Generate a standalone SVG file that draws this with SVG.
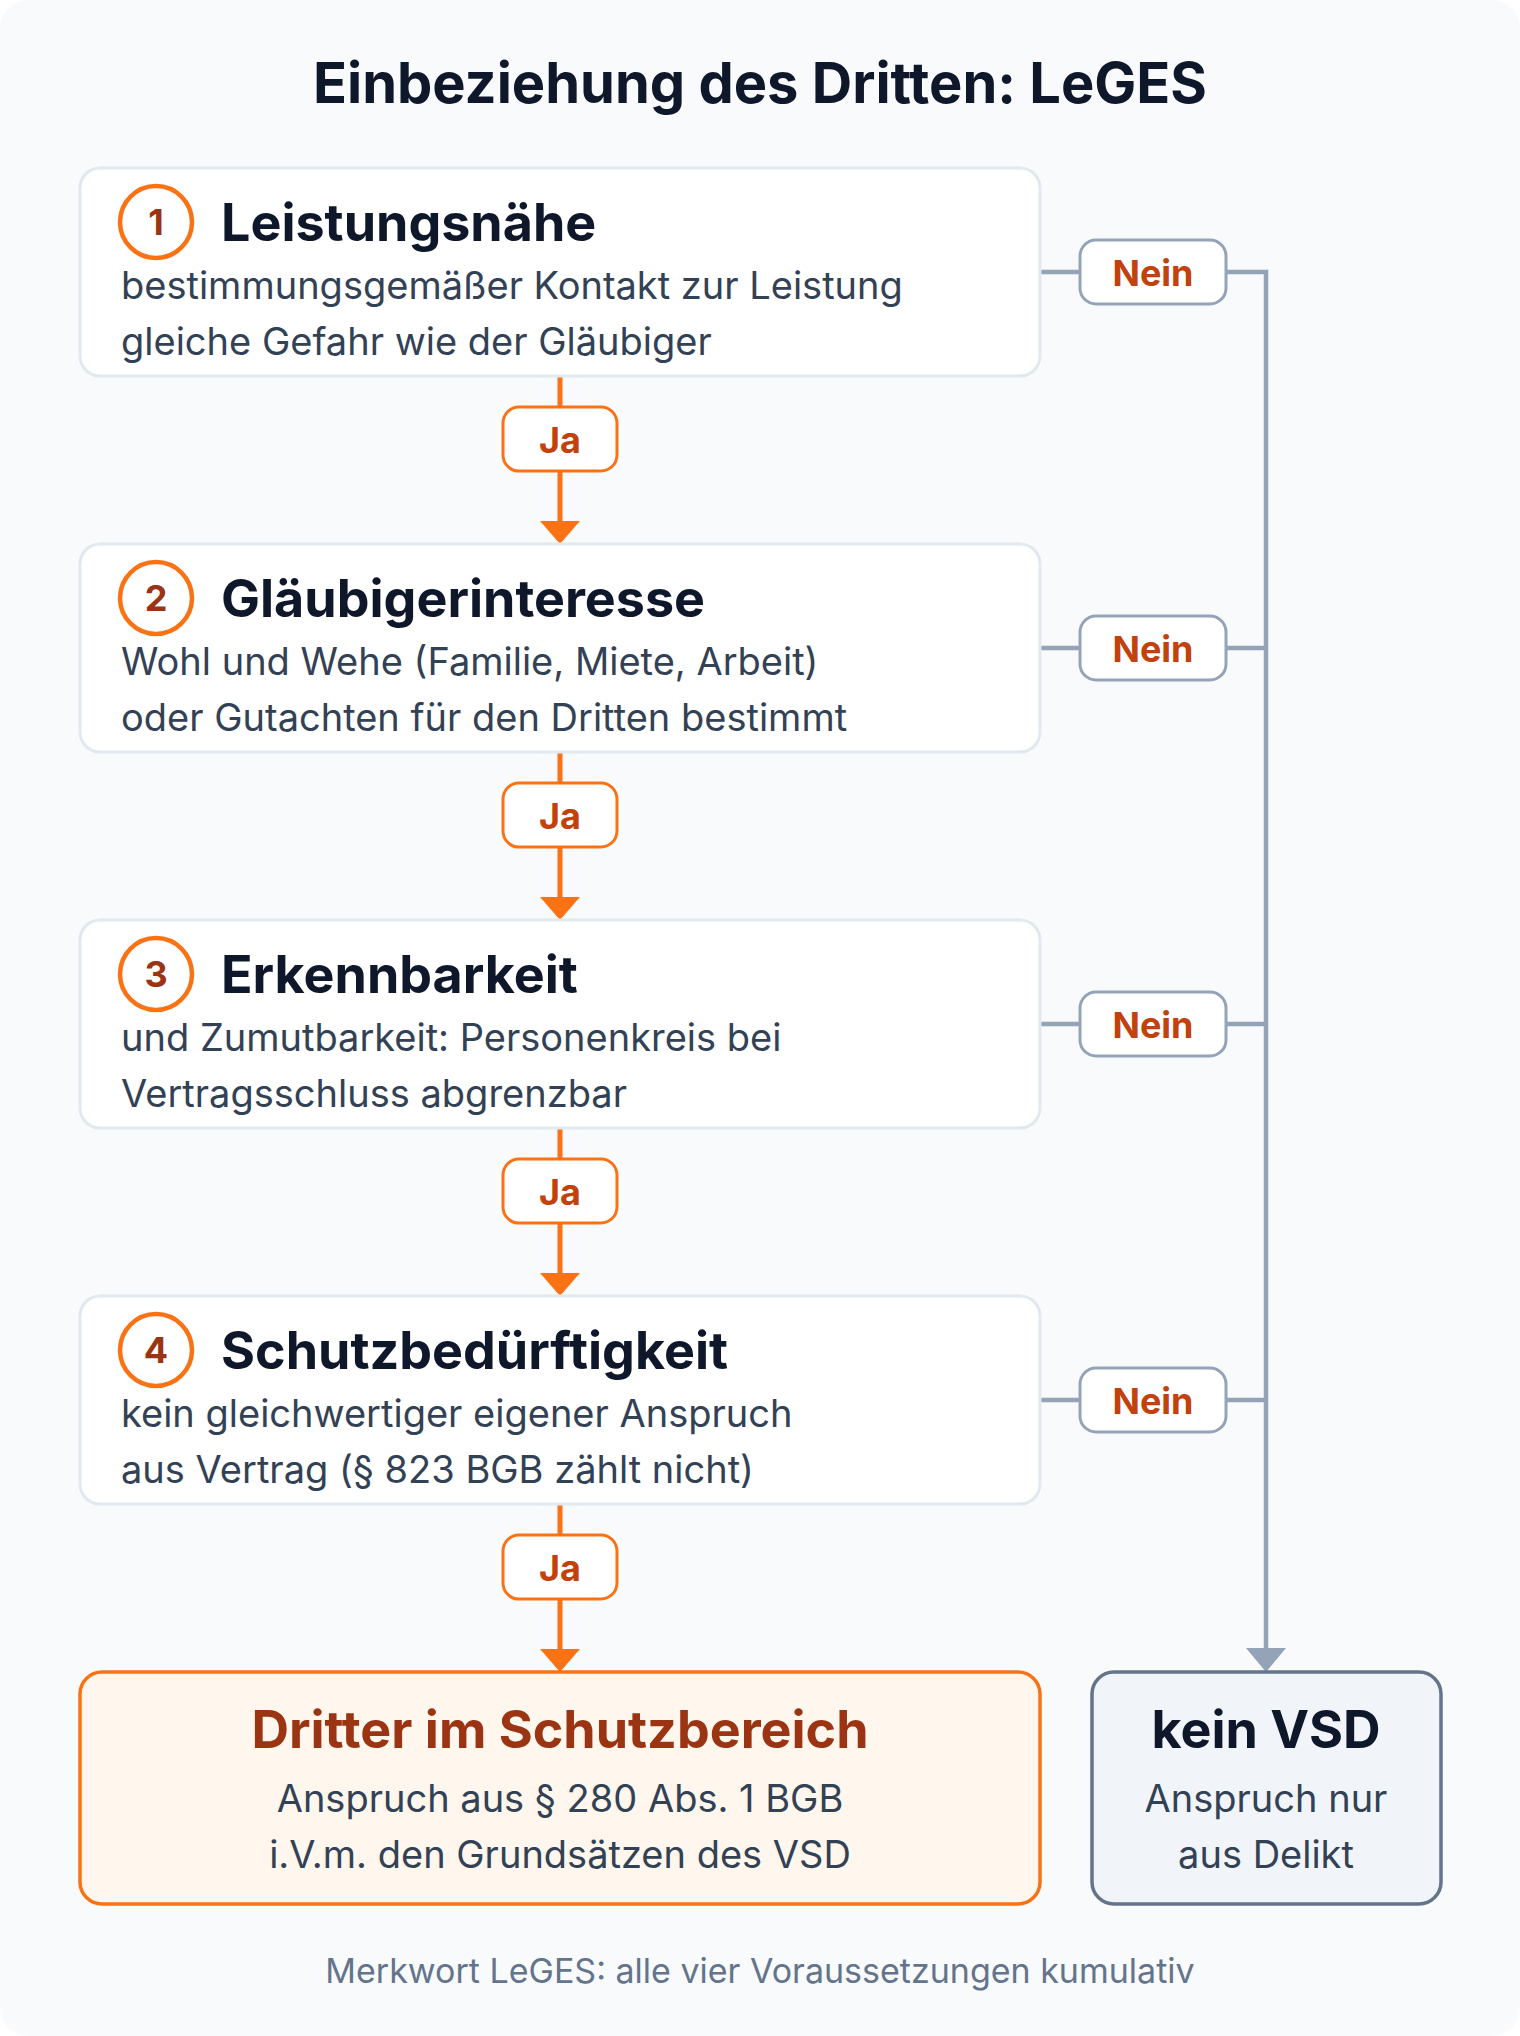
<svg xmlns="http://www.w3.org/2000/svg" width="1520" height="2036" viewBox="0 0 1520 2036">
<style>
text { font-family: Inter, "Noto Sans", "Liberation Sans", sans-serif; }
.title { font-size: 56px; font-weight: 700; fill: #0f172a; }
.step { fill: #ffffff; stroke: #e2e8f0; stroke-width: 3; }
.num-c { fill: #ffffff; stroke: #f97316; stroke-width: 4.5; }
.num { font-size: 36px; font-weight: 700; fill: #9a3412; text-anchor: middle; }
.head { font-size: 52px; font-weight: 700; fill: #0f172a; }
.body { font-size: 38px; font-weight: 400; fill: #334155; }
.yes-line { stroke: #f97316; stroke-width: 5; fill: none; }
.no-line { stroke: #94a3b8; stroke-width: 4.5; fill: none; }
.yes-pill { fill: #ffffff; stroke: #f97316; stroke-width: 3; }
.no-pill { fill: #ffffff; stroke: #94a3b8; stroke-width: 3; }
.lbl { font-size: 36px; font-weight: 700; fill: #c2410c; text-anchor: middle; }
.ctr { text-anchor: middle; }
.foot { font-size: 34px; fill: #64748b; text-anchor: middle; }
</style>
<rect x="0" y="0" width="1520" height="2036" fill="#ffffff"/>
<rect x="0" y="0" width="1520" height="2036" rx="28" fill="#f8fafc"/>
<text class="title" x="760" y="103" text-anchor="middle">Einbeziehung des Dritten: LeGES</text>

<g id="connectors">
  <path class="yes-line" d="M560 376 V522"/>
  <polygon points="540,521 580,521 560,544" fill="#f97316"/>
  <path class="yes-line" d="M560 752 V898"/>
  <polygon points="540,897 580,897 560,920" fill="#f97316"/>
  <path class="yes-line" d="M560 1128 V1274"/>
  <polygon points="540,1273 580,1273 560,1296" fill="#f97316"/>
  <path class="yes-line" d="M560 1504 V1650"/>
  <polygon points="540,1649 580,1649 560,1672" fill="#f97316"/>

  <path class="no-line" d="M1040 272 H1080 M1040 648 H1080 M1040 1024 H1080 M1040 1400 H1080"/>
  <path class="no-line" d="M1226 272 H1266 V1650 M1226 648 H1266 M1226 1024 H1266 M1226 1400 H1266"/>
  <polygon points="1246,1648 1286,1648 1266,1672" fill="#94a3b8"/>

  <g id="ja1"><rect class="yes-pill" x="503" y="407" width="114" height="64" rx="16"/><text class="lbl" x="560" y="453">Ja</text></g>
  <g id="ja2"><rect class="yes-pill" x="503" y="783" width="114" height="64" rx="16"/><text class="lbl" x="560" y="829">Ja</text></g>
  <g id="ja3"><rect class="yes-pill" x="503" y="1159" width="114" height="64" rx="16"/><text class="lbl" x="560" y="1205">Ja</text></g>
  <g id="ja4"><rect class="yes-pill" x="503" y="1535" width="114" height="64" rx="16"/><text class="lbl" x="560" y="1581">Ja</text></g>

  <g id="nein1"><rect class="no-pill" x="1080" y="240" width="146" height="64" rx="16"/><text class="lbl" x="1153" y="286">Nein</text></g>
  <g id="nein2"><rect class="no-pill" x="1080" y="616" width="146" height="64" rx="16"/><text class="lbl" x="1153" y="662">Nein</text></g>
  <g id="nein3"><rect class="no-pill" x="1080" y="992" width="146" height="64" rx="16"/><text class="lbl" x="1153" y="1038">Nein</text></g>
  <g id="nein4"><rect class="no-pill" x="1080" y="1368" width="146" height="64" rx="16"/><text class="lbl" x="1153" y="1414">Nein</text></g>
</g>

<g id="step1">
  <rect class="step" x="80" y="168" width="960" height="208" rx="20"/>
  <circle class="num-c" cx="156" cy="222" r="36"/>
  <text class="num" x="156" y="235">1</text>
  <text class="head" x="221" y="241">Leistungsnähe</text>
  <text class="body" x="121" y="299">bestimmungsgemäßer Kontakt zur Leistung</text>
  <text class="body" x="121" y="355">gleiche Gefahr wie der Gläubiger</text>
</g>
<g id="step2">
  <rect class="step" x="80" y="544" width="960" height="208" rx="20"/>
  <circle class="num-c" cx="156" cy="598" r="36"/>
  <text class="num" x="156" y="611">2</text>
  <text class="head" x="221" y="617">Gläubigerinteresse</text>
  <text class="body" x="121" y="675">Wohl und Wehe (Familie, Miete, Arbeit)</text>
  <text class="body" x="121" y="731">oder Gutachten für den Dritten bestimmt</text>
</g>
<g id="step3">
  <rect class="step" x="80" y="920" width="960" height="208" rx="20"/>
  <circle class="num-c" cx="156" cy="974" r="36"/>
  <text class="num" x="156" y="987">3</text>
  <text class="head" x="221" y="993">Erkennbarkeit</text>
  <text class="body" x="121" y="1051">und Zumutbarkeit: Personenkreis bei</text>
  <text class="body" x="121" y="1107">Vertragsschluss abgrenzbar</text>
</g>
<g id="step4">
  <rect class="step" x="80" y="1296" width="960" height="208" rx="20"/>
  <circle class="num-c" cx="156" cy="1350" r="36"/>
  <text class="num" x="156" y="1363">4</text>
  <text class="head" x="221" y="1369">Schutzbedürftigkeit</text>
  <text class="body" x="121" y="1427">kein gleichwertiger eigener Anspruch</text>
  <text class="body" x="121" y="1483">aus Vertrag (§ 823 BGB zählt nicht)</text>
</g>

<g id="result-yes">
  <rect x="80" y="1672" width="960" height="232" rx="22" fill="#fff7ed" stroke="#f97316" stroke-width="3.5"/>
  <text class="head ctr" x="560" y="1748" style="fill:#9a3412">Dritter im Schutzbereich</text>
  <text class="body ctr" x="560" y="1812">Anspruch aus § 280 Abs. 1 BGB</text>
  <text class="body ctr" x="560" y="1868">i.V.m. den Grundsätzen des VSD</text>
</g>
<g id="result-no">
  <rect x="1092" y="1672" width="349" height="232" rx="22" fill="#f1f5f9" stroke="#64748b" stroke-width="3.5"/>
  <text class="head ctr" x="1266" y="1748">kein VSD</text>
  <text class="body ctr" x="1266" y="1812">Anspruch nur</text>
  <text class="body ctr" x="1266" y="1868">aus Delikt</text>
</g>

<text class="foot" x="760" y="1983">Merkwort LeGES: alle vier Voraussetzungen kumulativ</text>
</svg>
